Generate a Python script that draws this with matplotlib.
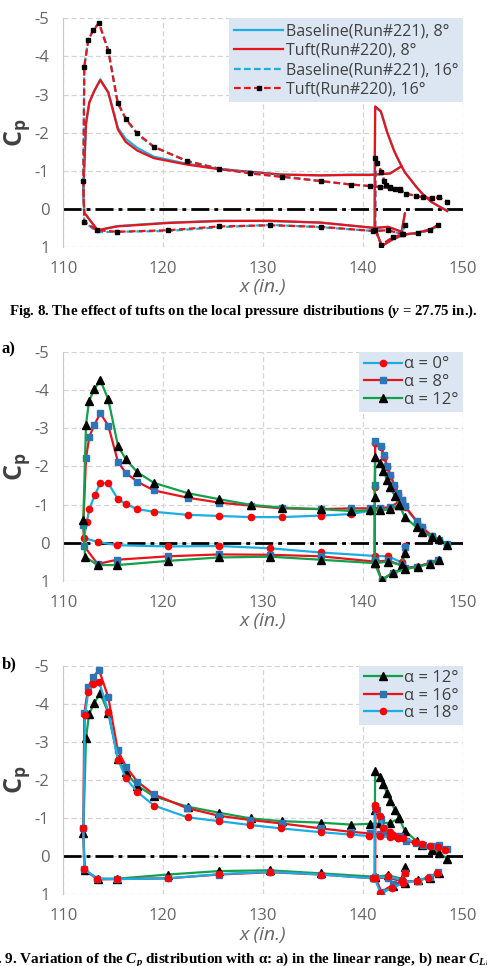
import matplotlib
matplotlib.use('Agg')
import matplotlib.pyplot as plt

plt.rcParams['font.family'] = ['Open Sans', 'DejaVu Sans']
plt.rcParams['axes.unicode_minus'] = False
plt.rcParams['mathtext.fontset'] = 'custom'
plt.rcParams['mathtext.rm'] = 'Liberation Serif:bold'
plt.rcParams['mathtext.it'] = 'Liberation Serif:italic:bold'
plt.rcParams['mathtext.bf'] = 'Liberation Serif:bold'
plt.rcParams['mathtext.sf'] = 'Open Sans:bold'

# ---- data (x in inches, Cp) ----
x_ticks = [110, 120, 130, 140, 150]
cp_ticks = [-5, -4, -3, -2, -1, 0, 1]

# main element: upper TE -> LE -> lower TE ; flap: lower TE -> LE -> upper TE
a0_main_x = [143.84, 142.7, 141.7, 140.73, 138.77, 135.77, 131.84, 128.77, 125.6, 122.44, 119.07, 117.4,
             116.27, 115.47, 114.5, 113.7, 113.14, 112.6, 112.34, 112.07, 113.43, 115.4, 120.5, 125.6,
             130.67, 135.77, 141.17, 142.5, 143.84, 144.17]
a0_main_cp = [-1.0, -0.88, -0.85, -0.84, -0.75, -0.71, -0.67, -0.67, -0.70, -0.73, -0.81, -0.88,
              -1.01, -1.14, -1.56, -1.56, -1.24, -0.88, -0.53, -0.12, -0.02, 0.07, 0.10, 0.09,
              0.15, 0.26, 0.35, 0.36, 0.52, 0.10]
a0_flap_x = [147.5, 146.67, 145.34, 144.17, 143.0, 141.84, 141.15, 141.17, 141.2, 141.77, 142.07, 142.4,
             142.73, 143.1, 143.5, 143.84, 144.17, 145.34, 145.84, 146.84, 147.57, 148.4]
a0_flap_cp = [0.45, 0.54, 0.63, 0.67, 0.79, 0.98, 0.42, -1.45, -2.62, -2.50, -2.26, -1.98,
              -1.75, -1.50, -1.28, -1.10, -0.94, -0.55, -0.40, -0.17, -0.06, 0.05]

a8_main_x = [143.84, 142.7, 141.7, 140.73, 138.77, 135.77, 131.84, 128.77, 125.6, 122.44, 119.07, 117.4,
             116.23, 115.47, 114.5, 113.7, 113.1, 112.6, 112.27, 112.0, 112.1, 113.43, 115.4, 120.5,
             125.6, 130.67, 135.77, 141.17, 142.5, 143.84, 144.17]
a8_main_cp = [-1.12, -0.93, -0.91, -0.90, -0.90, -0.88, -0.90, -0.97, -1.05, -1.18, -1.37, -1.60,
              -1.84, -2.12, -3.07, -3.40, -3.09, -2.78, -2.22, -0.46, 0.10, 0.56, 0.45, 0.36,
              0.31, 0.32, 0.36, 0.50, 0.47, 0.60, 0.12]
a8_flap_x = [147.5, 146.67, 145.34, 144.17, 143.0, 141.84, 141.15, 141.17, 141.2, 141.77, 142.07, 142.4,
             142.73, 143.1, 143.5, 143.84, 144.17, 145.34, 145.84, 146.84, 147.57, 148.4]
a8_flap_cp = [0.45, 0.54, 0.63, 0.67, 0.79, 0.98, 0.45, -1.51, -2.67, -2.55, -2.30, -2.01,
              -1.78, -1.52, -1.30, -1.12, -0.96, -0.57, -0.42, -0.18, -0.07, 0.04]

a12_main_x = [143.6, 142.7, 141.7, 140.7, 138.77, 135.77, 131.84, 128.77, 125.6, 122.44, 119.07, 117.4,
              116.23, 115.47, 114.5, 113.7, 113.1, 112.57, 112.27, 112.0, 112.17, 113.43, 115.4, 120.5,
              125.6, 130.67, 135.77, 141.17, 142.5, 143.84, 144.17]
a12_main_cp = [-0.99, -0.88, -0.86, -0.85, -0.83, -0.88, -0.92, -0.99, -1.14, -1.30, -1.57, -1.85,
               -2.20, -2.54, -3.76, -4.27, -4.03, -3.72, -3.09, -0.60, 0.37, 0.59, 0.59, 0.48,
               0.39, 0.37, 0.45, 0.54, 0.50, 0.59, 0.27]
a12_flap_x = [147.57, 146.67, 145.5, 144.17, 143.0, 141.84, 141.15, 141.17, 141.2, 141.67, 142.0, 142.4,
              142.73, 143.17, 143.6, 144.17, 145.34, 145.84, 146.84, 147.57, 148.4]
a12_flap_cp = [0.45, 0.56, 0.63, 0.70, 0.79, 0.98, 0.54, -1.21, -2.24, -2.09, -1.89, -1.65,
               -1.45, -1.22, -0.99, -0.67, -0.40, -0.29, -0.16, -0.09, 0.06]

a16_main_x = [143.67, 142.67, 141.73, 140.67, 138.77, 135.77, 131.84, 128.7, 125.6, 122.4, 119.07, 117.4,
              116.27, 115.44, 114.5, 113.57, 113.0, 112.5, 112.1, 112.0, 112.1, 113.4, 115.4, 120.5,
              125.6, 130.7, 135.77, 141.0, 142.5, 143.84, 144.17]
a16_main_cp = [-0.53, -0.55, -0.57, -0.60, -0.64, -0.73, -0.86, -0.95, -1.06, -1.26, -1.62, -1.96,
               -2.35, -2.79, -4.17, -4.89, -4.70, -4.45, -3.75, -0.73, 0.34, 0.61, 0.60, 0.58,
               0.48, 0.42, 0.48, 0.58, 0.56, 0.66, 0.43]
a16_flap_x = [147.5, 146.67, 145.5, 144.0, 143.0, 141.83, 141.2, 141.23, 141.43, 141.83, 142.1, 142.33,
              142.67, 143.17, 143.67, 144.27, 145.33, 146.0, 146.84, 147.57, 148.4]
a16_flap_cp = [0.42, 0.55, 0.64, 0.67, 0.74, 0.94, 0.55, -1.33, -1.20, -0.98, -0.74, -0.63,
               -0.57, -0.53, -0.50, -0.40, -0.34, -0.30, -0.28, -0.30, -0.19]

a18_main_x = [143.5, 142.67, 141.73, 140.57, 138.67, 135.77, 131.77, 128.67, 125.57, 122.44, 119.07, 117.4,
              116.27, 115.5, 114.5, 113.57, 113.0, 112.5, 112.17, 112.0, 112.1, 113.4, 115.4, 120.5,
              125.6, 130.7, 135.77, 141.0, 142.5, 143.84, 144.17]
a18_main_cp = [-0.49, -0.50, -0.52, -0.53, -0.57, -0.63, -0.73, -0.82, -0.92, -1.02, -1.33, -1.69,
               -2.04, -2.52, -3.79, -4.58, -4.52, -4.32, -3.71, -0.73, 0.34, 0.59, 0.60, 0.58,
               0.47, 0.41, 0.48, 0.58, 0.53, 0.62, 0.43]
a18_flap_x = [147.4, 146.5, 145.4, 144.0, 142.9, 141.73, 141.15, 141.17, 141.33, 141.67, 142.0, 142.67,
              143.0, 143.5, 144.0, 145.17, 145.84, 146.67, 147.5, 148.17]
a18_flap_cp = [0.45, 0.56, 0.64, 0.70, 0.84, 0.96, 0.58, -1.34, -1.23, -1.05, -0.73, -0.64,
               -0.56, -0.49, -0.47, -0.38, -0.32, -0.27, -0.23, -0.16]

# Fig. 8: tuft runs (same tap x as 8 and 16 deg)
tuft8_main_cp = [-1.12, -0.93, -0.91, -0.89, -0.89, -0.88, -0.90, -0.97, -1.04, -1.16, -1.33, -1.53,
                 -1.76, -2.08, -3.05, -3.38, -3.10, -2.80, -2.25, -0.46, 0.10, 0.56, 0.46, 0.37,
                 0.32, 0.31, 0.36, 0.50, 0.47, 0.60, 0.12]
tuft8_flap_cp = [0.45, 0.54, 0.63, 0.67, 0.79, 0.98, 0.45, -1.51, -2.69, -2.56, -2.30, -2.01,
                 -1.78, -1.52, -1.30, -1.12, -0.96, -0.57, -0.42, -0.18, -0.07, 0.06]
tuft16_main_cp = [-0.53, -0.55, -0.57, -0.60, -0.64, -0.73, -0.84, -0.93, -1.05, -1.25, -1.63, -1.98,
                  -2.36, -2.78, -4.15, -4.87, -4.69, -4.43, -3.73, -0.73, 0.34, 0.56, 0.60, 0.56,
                  0.46, 0.43, 0.47, 0.58, 0.56, 0.66, 0.42]
tuft16_flap_cp = a16_flap_cp

gray = '#666666'
cyan = '#1aaee5'
red = '#e8141c'
green = '#12a04b'

fig = plt.figure(figsize=(4.87, 9.66), dpi=100)
ax1 = fig.add_axes([0.130, 0.7443, 0.821, 0.2367])
axa = fig.add_axes([0.130, 0.3989, 0.821, 0.2364])
axb = fig.add_axes([0.130, 0.0742, 0.821, 0.2367])


def style(ax):
    ax.set_xlim(110, 150)
    ax.set_ylim(1, -5)
    ax.set_xticks(x_ticks)
    ax.set_yticks(cp_ticks)
    ax.grid(True, color='#d4d4d4', linestyle=(0, (4, 2.5)), linewidth=0.9)
    ax.set_axisbelow(True)
    for s in ['top', 'right', 'bottom']:
        ax.spines[s].set_visible(False)
    ax.spines['left'].set_color('#c8c8c8')
    ax.tick_params(length=0, labelsize=12, labelcolor=gray)
    ax.tick_params(axis='x', pad=10)
    ax.tick_params(axis='y', pad=10)
    ax.axhline(0, color='black', lw=2, linestyle=(0, (6.5, 1.8, 1.4, 1.8)), zorder=1.6)
    ax.set_xlabel('x (in.)', style='italic', fontsize=14, color=gray, labelpad=1)
    ax.set_ylabel(r'$\mathsf{C_p}$', fontsize=18, color='#404040', labelpad=2)


def draw(ax, mx, mcp, fx, fcp, label, **kw):
    h, = ax.plot(mx, mcp, label=label, **kw)
    ax.plot(fx, fcp, **kw)
    return h


for ax in (ax1, axa, axb):
    style(ax)

# Fig. 8
h1 = [
    draw(ax1, a8_main_x, a8_main_cp, a8_flap_x, a8_flap_cp, 'Baseline(Run#221), 8°', color=cyan, lw=1.6),
    draw(ax1, a8_main_x, tuft8_main_cp, a8_flap_x, tuft8_flap_cp, 'Tuft(Run#220), 8°', color=red, lw=1.6),
    draw(ax1, a16_main_x, a16_main_cp, a16_flap_x, a16_flap_cp, 'Baseline(Run#221), 16°',
         color=cyan, lw=1.6, linestyle=(0, (3, 1.5))),
    draw(ax1, a16_main_x, tuft16_main_cp, a16_flap_x, tuft16_flap_cp, 'Tuft(Run#220), 16°',
         color=red, lw=1.6, linestyle=(0, (3, 1.5)), marker='s', ms=3.5, mfc='black', mec='black'),
]

# Fig. 9a
ha = [
    draw(axa, a0_main_x, a0_main_cp, a0_flap_x, a0_flap_cp, 'α = 0°', color=cyan, lw=1.6,
         marker='o', ms=4.5, mfc='#ff0000', mec='#ff0000'),
    draw(axa, a8_main_x, a8_main_cp, a8_flap_x, a8_flap_cp, 'α = 8°', color=red, lw=1.6,
         marker='s', ms=4.5, mfc='#2e75b6', mec='#2e75b6'),
    draw(axa, a12_main_x, a12_main_cp, a12_flap_x, a12_flap_cp, 'α = 12°', color=green, lw=1.6,
         marker='^', ms=5.5, mfc='black', mec='black'),
]

# Fig. 9b
hb = [
    draw(axb, a12_main_x, a12_main_cp, a12_flap_x, a12_flap_cp, 'α = 12°', color=green, lw=1.6,
         marker='^', ms=5.5, mfc='black', mec='black'),
    draw(axb, a16_main_x, a16_main_cp, a16_flap_x, a16_flap_cp, 'α = 16°', color=red, lw=1.6,
         marker='s', ms=4.5, mfc='#2e75b6', mec='#2e75b6'),
    draw(axb, a18_main_x, a18_main_cp, a18_flap_x, a18_flap_cp, 'α = 18°', color=cyan, lw=1.6,
         marker='o', ms=4.5, mfc='#ff0000', mec='#ff0000'),
]

leg_kw = dict(loc='upper right', bbox_to_anchor=(1, 1), borderaxespad=0, frameon=True, fancybox=False,
              facecolor='#dce6f2', edgecolor='none', framealpha=1, labelcolor='#404040')
ax1.legend(handles=h1, fontsize=11.5, handlelength=3.1, handletextpad=0.15, labelspacing=0.22,
           borderpad=0.3, **leg_kw)
axa.legend(handles=ha, fontsize=12, handlelength=2.3, handletextpad=0.15, labelspacing=0.1,
           borderpad=0.25, **leg_kw)
axb.legend(handles=hb, fontsize=12, handlelength=2.3, handletextpad=0.15, labelspacing=0.1,
           borderpad=0.25, **leg_kw)

serif = dict(family='Liberation Serif', weight='bold', color='black')
fig.text(0.5, 1 - 311.7 / 966, r'Fig. 8. The effect of tufts on the local pressure distributions ($y$ = 27.75 in.).',
         ha='center', va='center', fontsize=10.7, **serif)
fig.text(0.003, 1 - 349 / 966, 'a)', ha='left', va='center', fontsize=12, **serif)
fig.text(0.003, 1 - 664 / 966, 'b)', ha='left', va='center', fontsize=12, **serif)
fig.text(-0.05, 1 - 960 / 966,
         r'Fig. 9. Variation of the $C_p$ distribution with α: a) in the linear range, b) near $C_{Lmax}$',
         ha='left', va='center', fontsize=10.9, **serif)

fig.savefig('out.png', dpi=100)
